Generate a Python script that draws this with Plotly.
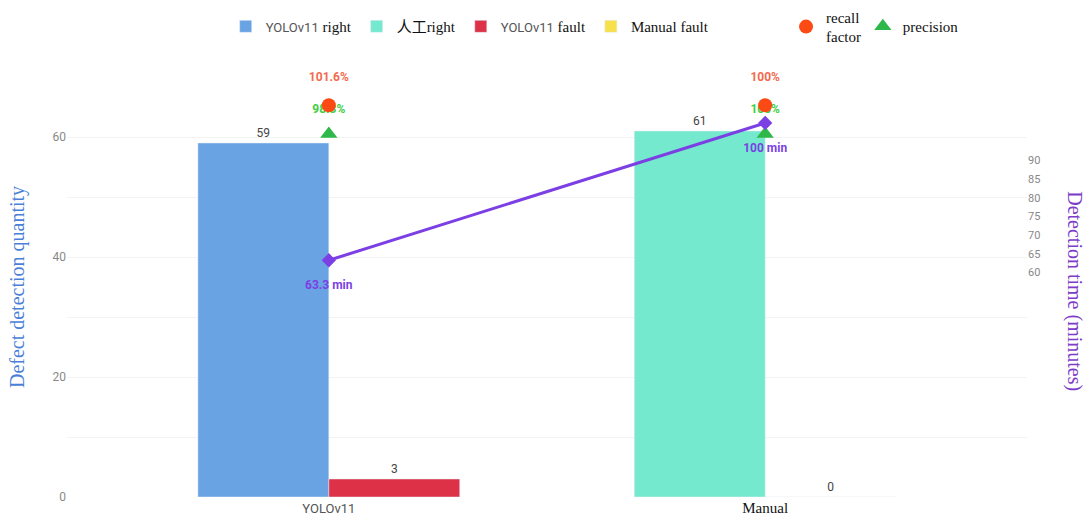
import plotly.graph_objects as go

# Detection methods on the x axis
categories = ["YOLOv11", "Manual"]
tick_labels = [
    '<span style="font-family:Roboto, Arial;color:#555;font-size:13px">YOLOv11</span>',
    "Manual",
]

# Correct / false detections per method
yolo_right = [59, None]
manual_right = [None, 61]
yolo_fault = [3, None]
manual_fault = [None, 0]

# Metrics per method (percent)
recall = [101.6, 100]
precision = [98.3, 100]
recall_text = ["101.6%", "100%"]
precision_text = ["98.3%", "100%"]

# Detection time per method (minutes)
det_time = [63.3, 100]
time_text = ["63.3 min", "100 min"]

SERIF = "Liberation Serif, Times New Roman, serif"
SANS = "Roboto, Arial, sans-serif"
YOLO_SPAN = '<span style="font-family:Roboto, Arial;color:#555;font-size:13px">YOLOv11</span>'

# metric markers sit just above the tallest bar
top_count = max(v for v in yolo_right + manual_right if v is not None)
recall_y = [top_count + 4.3] * len(categories)
precision_y = [top_count - 0.5] * len(categories)

fig = go.Figure()

bar_font = dict(family=SANS, size=12, color="#444")
fig.add_trace(go.Bar(x=categories, y=yolo_right, name=YOLO_SPAN + " right",
                     offsetgroup="right", marker_color="#6aa3e3",
                     text=yolo_right, textposition="outside", textfont=bar_font,
                     cliponaxis=False))
fig.add_trace(go.Bar(x=categories, y=manual_right, name="人工right",
                     offsetgroup="right", marker_color="#74e9cd",
                     text=manual_right, textposition="outside", textfont=bar_font,
                     cliponaxis=False))
fig.add_trace(go.Bar(x=categories, y=yolo_fault, name=YOLO_SPAN + " fault",
                     offsetgroup="fault", marker_color="#dc3147",
                     text=yolo_fault, textposition="outside", textfont=bar_font,
                     cliponaxis=False))
fig.add_trace(go.Bar(x=categories, y=manual_fault, name="Manual fault",
                     offsetgroup="fault", marker_color="#f7e04a",
                     text=manual_fault, textposition="outside", textfont=bar_font,
                     cliponaxis=False))

# detection time line on the secondary axis
fig.add_trace(go.Scatter(x=categories, y=det_time, yaxis="y2", mode="lines+markers",
                         line=dict(color="#7b3fe4", width=3),
                         marker=dict(symbol="diamond", size=11, color="#7b3fe4"),
                         showlegend=False, cliponaxis=False))
fig.add_trace(go.Scatter(x=categories, y=[t - 7 for t in det_time], yaxis="y2",
                         mode="text", text=time_text, textposition="middle center",
                         textfont=dict(family=SANS, size=12, color="#7b3fe4", weight="bold"),
                         showlegend=False, hoverinfo="skip", cliponaxis=False))

# precision labels, drawn beneath the recall markers
fig.add_trace(go.Scatter(x=categories, y=[p + 4 for p in precision_y], mode="text",
                         text=precision_text, textposition="middle center",
                         textfont=dict(family=SANS, size=12, color="#3fcf3f", weight="bold"),
                         showlegend=False, hoverinfo="skip", cliponaxis=False))
fig.add_trace(go.Scatter(x=categories, y=recall_y, mode="markers", name="recall<br>factor",
                         marker=dict(symbol="circle", size=14, color="#fb4a14"),
                         customdata=recall, hovertemplate="%{customdata}%",
                         legend="legend2", cliponaxis=False))
fig.add_trace(go.Scatter(x=categories, y=precision_y, mode="markers", name="precision",
                         marker=dict(symbol="triangle-up", size=15, color="#2eb84a"),
                         customdata=precision, hovertemplate="%{customdata}%",
                         legend="legend3", cliponaxis=False))
fig.add_trace(go.Scatter(x=categories, y=[r + 4.5 for r in recall_y], mode="text",
                         text=recall_text, textposition="middle center",
                         textfont=dict(family=SANS, size=12, color="#f26a4f", weight="bold"),
                         showlegend=False, hoverinfo="skip", cliponaxis=False))

legend_font = dict(family=SERIF, size=15, color="#111")
fig.update_layout(
    width=1087, height=522,
    margin=dict(l=67, r=60, t=77, b=25, autoexpand=False),
    paper_bgcolor="white", plot_bgcolor="white",
    barmode="group", bargap=0.4, bargroupgap=0,
    showlegend=True,
    xaxis=dict(range=[-0.6, 1.6], tickvals=categories, ticktext=tick_labels,
               tickfont=dict(family=SERIF, size=15, color="#111"), automargin=False,
               showgrid=False, zeroline=False, showline=False, ticks="", ticklen=0),
    yaxis=dict(range=[0, 70], dtick=20, tick0=0, automargin=False,
               tickfont=dict(family=SANS, size=12, color="#888"),
               gridcolor="#f3f3f3", zeroline=False, showline=False,
               minor=dict(dtick=10, showgrid=True, gridcolor="#f3f3f3"),
               title=dict(text="Defect detection quantity",
                          font=dict(family=SERIF, size=20, color="#4a7fd8"),
                          standoff=22)),
    yaxis2=dict(overlaying="y", side="right", range=[0, 112.3], automargin=False,
                tickvals=[60, 65, 70, 75, 80, 85, 90],
                tickfont=dict(family=SANS, size=11, color="#888"),
                showgrid=False, zeroline=False, showline=False),
    legend=dict(orientation="h", x=0.42, xanchor="center", y=1.12, yanchor="middle",
                font=dict(family=SERIF + ", Noto Sans CJK SC", size=15, color="#111"),
                bgcolor="rgba(0,0,0,0)", itemwidth=30, tracegroupgap=0),
    legend2=dict(orientation="h", x=0.749, xanchor="left", y=1.12, yanchor="middle",
                 font=legend_font, bgcolor="rgba(0,0,0,0)", itemwidth=30),
    legend3=dict(orientation="h", x=0.829, xanchor="left", y=1.12, yanchor="middle",
                 font=legend_font, bgcolor="rgba(0,0,0,0)", itemwidth=30),
    annotations=[
        dict(text="Detection time (minutes)", xref="paper", yref="paper",
             x=1.0 + 48 / 960, y=0.49, textangle=90, showarrow=False,
             xanchor="center", yanchor="middle",
             font=dict(family=SERIF, size=20, color="#7d3cc8")),
    ],
)

fig.write_html("out.html")
